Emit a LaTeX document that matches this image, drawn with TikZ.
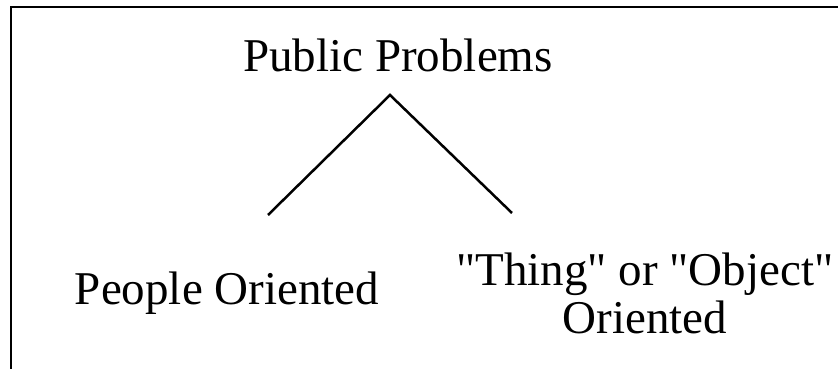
\documentclass[tikz,border=0pt]{standalone}
\usepackage{fontspec}
\setmainfont{Liberation Serif}[Ligatures=TeXOff]
\usepackage{tikz}
\usetikzlibrary{positioning}

\tikzset{label text/.style={font=\fontsize{47}{48}\selectfont, inner sep=0pt, anchor=base, align=center}}

\begin{document}
\begin{tikzpicture}[x=1pt, y=-1pt]
    \useasboundingbox (0,0) rectangle (838,369);
    % open frame, top and left only
    \draw[line width=2.5pt] (838,7) -- (11,7) -- (11,369);
    \node[label text] (top) at (398,72) {Public Problems};
    \node[label text] (people) at (227,304) {People Oriented};
    \node[label text] (thing) at (645,333) {"Thing" or "Object"\\ Oriented};
    \coordinate (apex) at (390,95);
    \coordinate (leftend) at (268,215);
    \coordinate (rightend) at (512,213);
    \draw[line width=2.5pt] (leftend) -- (apex) -- (rightend);
\end{tikzpicture}
\end{document}
